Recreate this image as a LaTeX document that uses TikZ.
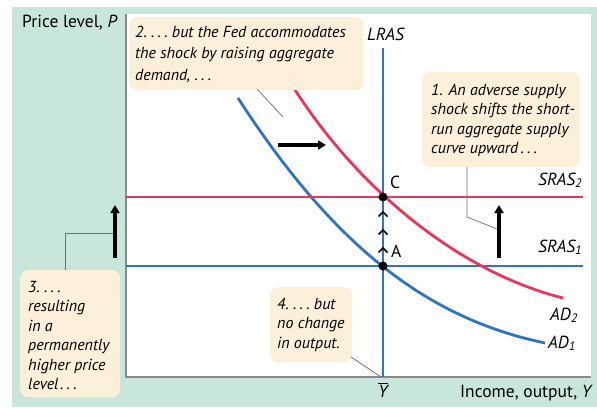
\documentclass[tikz,border=0pt]{standalone}
\usepackage{fontspec}
\setmainfont{PT Sans}
\usetikzlibrary{arrows.meta}
\definecolor{bgteal}{HTML}{C9E6DA}
\definecolor{boxfill}{HTML}{FDF0DA}
\definecolor{curvered}{HTML}{E8365D}
\definecolor{curveblue}{HTML}{2F74C0}
\definecolor{axisgray}{HTML}{8A8A8A}
\definecolor{leadgray}{HTML}{6E6E6E}
\newcommand{\mydots}{.\hspace{0.2em}.\hspace{0.2em}.}
\tikzset{
  redline/.style={curvered, line width=2.8pt},
  blueline/.style={curveblue, line width=2.8pt},
  leader/.style={leadgray, line width=0.7pt},
  bigarrow/.style={black, line width=3.4pt, -{Triangle[length=8pt,width=9pt]}},
  chev/.style={black, line width=1.5pt},
  calloutbox/.style={fill=boxfill, rounded corners=8pt, anchor=north west, inner sep=0pt},
  callouttext/.style={align=left, anchor=base west, inner sep=0pt,
    font=\itshape\fontsize{16}{19.5}\selectfont},
  lab/.style={font=\fontsize{17.5}{20}\selectfont, inner sep=0pt},
  ilab/.style={font=\itshape\fontsize{17.5}{20}\selectfont, inner sep=0pt},
}
\begin{document}
\begin{tikzpicture}[x=1pt,y=-1pt]
\useasboundingbox (0,0) rectangle (597,407);
\fill[bgteal] (12,7) rectangle (597,407);
\fill[white] (126,14) rectangle (591,377);
\draw[axisgray, line width=1.2pt] (126,14) -- (126,377) -- (591,377);

% key points
\coordinate (A) at (383,266);
\coordinate (C) at (383,197);
\coordinate (lrasTop) at (383,48);
\coordinate (lrasBot) at (383,377);
\coordinate (s1L) at (126,266);
\coordinate (s1R) at (583,266);
\coordinate (s2L) at (126,197);
\coordinate (s2R) at (583,197);
\coordinate (ad1s) at (238,98);
\coordinate (ad1e) at (545,343);
\coordinate (ad2s) at (281,67);
\coordinate (ad2e) at (563,298);

% curves
\draw[blueline] (s1L) -- (s1R);
\draw[blueline] (ad1s) .. controls (333,245) and (426,318) .. (ad1e);
\draw[redline] (s2L) -- (s2R);
\draw[redline] (ad2s) .. controls (345,178) and (452,270) .. (ad2e);
\draw[blueline] (lrasTop) -- (lrasBot);

% chevrons
\foreach \yy in {212,230,248}{
  \draw[chev] (378.5,\yy+4.5) -- (383,\yy) -- (387.5,\yy+4.5);
}
\fill (A) circle (4.5pt);
\fill (C) circle (4.5pt);

% big arrows
\coordinate (h1) at (278,145); \coordinate (h2) at (326,145);
\draw[bigarrow] (h1) -- (h2);
\coordinate (r1) at (499,258); \coordinate (r2) at (499,205);
\draw[bigarrow] (r1) -- (r2);
\coordinate (l1) at (115,258); \coordinate (l2) at (115,205);
\draw[bigarrow] (l1) -- (l2);

% labels
\node[lab, anchor=base west] (plab) at (22,27) {Price level, \textit{P}};
\node[lab, anchor=base east] (ylab) at (593,397) {Income, output, \textit{Y}};
\node[lab, anchor=base] (ybar) at (383,397) {$\overline{\mbox{\itshape Y}}$};
\node[ilab, anchor=base west] (lras) at (367,40) {LRAS};
\node[ilab, anchor=base west] (sras2) at (538,185) {SRAS\textsubscript{2}};
\node[ilab, anchor=base west] (sras1) at (538,252) {SRAS\textsubscript{1}};
\node[lab, anchor=base west] (clab) at (390,188) {C};
\node[lab, anchor=base west] (alab) at (391,257) {A};
\node[ilab, anchor=base west] (ad2) at (550,320) {AD\textsubscript{2}};
\node[ilab, anchor=base west] (ad1) at (548,348) {AD\textsubscript{1}};

% callouts (text anchored at the baseline of its last line)
\node[calloutbox, minimum width=234pt, minimum height=73pt] (b2) at (129,17) {};
\node[callouttext, font=\itshape\fontsize{16}{21.5}\selectfont] (t2) at (135,80)
  {2.\ \mydots\ but the Fed accommodates\\the shock by raising aggregate\\demand,\ \mydots};
\node[calloutbox, minimum width=158pt, minimum height=95pt] (b1) at (422,72) {};
\node[callouttext] (t1) at (431,153.5)
  {1. An adverse supply\\shock shifts the short-\\run aggregate supply\\curve upward\hspace{0.15em}\mydots};
\node[calloutbox, minimum width=100pt, minimum height=127pt] (b3) at (20,270) {};
\node[callouttext] (t3) at (28,389.5)
  {3.\ \mydots\\resulting\\in a\\permanently\\higher price\\level\hspace{0.1em}\mydots};
\node[calloutbox, minimum width=82pt, minimum height=75pt] (b4) at (270,287) {};
\node[callouttext] (t4) at (277,348)
  {4.\ \mydots\ but\\no change\\in output.};

% leaders
\coordinate (p2a) at (257,89); \coordinate (p2b) at (283,117);
\draw[leader] (p2a) -- (p2b);
\coordinate (p1a) at (467,167); \coordinate (p1b) at (467,217); \coordinate (p1c) at (497,229);
\draw[leader] (p1a) -- (p1b) -- (p1c);
\coordinate (p3a) at (65,270); \coordinate (p3b) at (65,233); \coordinate (p3c) at (113,233);
\draw[leader] (p3a) -- (p3b) -- (p3c);
\coordinate (p4a) at (351,357); \coordinate (p4b) at (381,377);
\draw[leader] (p4a) -- (p4b);
\end{tikzpicture}
\end{document}
